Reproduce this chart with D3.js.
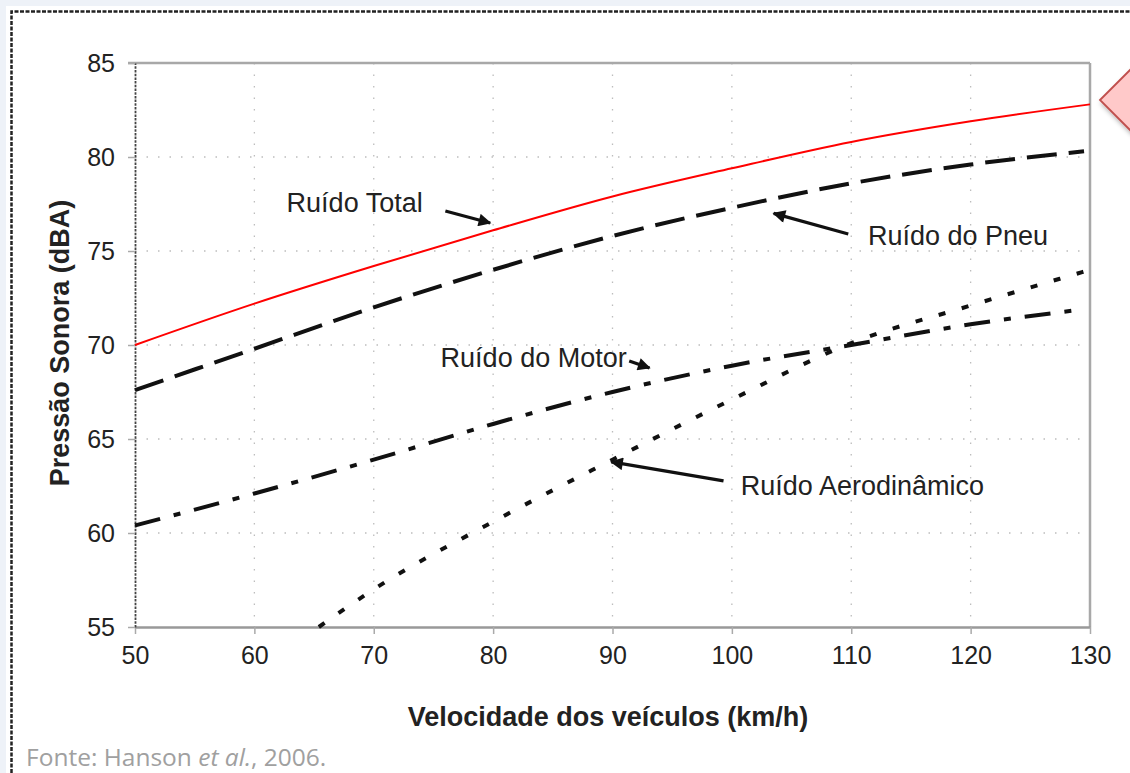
<!DOCTYPE html>
<html><head><meta charset="utf-8">
<script src="https://cdn.jsdelivr.net/npm/d3@7"></script>
<style>
html,body{margin:0;padding:0;background:#eef2f8;}
svg{display:block;}
</style></head>
<body>
<svg id="c" width="1130" height="773"></svg>
<script>
// ---- data ----
const speedTicks = [50,60,70,80,90,100,110,120,130];
const levelTicks = [55,60,65,70,75,80,85];
const speeds = [50,60,70,80,90,100,110,120,130];
const totalNoise = [70.0,72.2,74.2,76.1,77.9,79.4,80.8,81.9,82.8];
const tireSpeeds = [50,60,70,80,90,100,110,120,129.5];
const tireNoise = [67.6,69.8,72.0,74.0,75.8,77.3,78.6,79.6,80.3];
const motorSpeeds = [50,60,70,80,90,100,110,120,129.5];
const motorNoise = [60.4,62.1,63.9,65.8,67.5,68.9,70.0,71.1,71.9];
const aeroSpeeds = [65.4,70,80,90,100,110,120,130];
const aeroNoise = [55.0,57.0,60.6,63.9,67.1,70.1,72.1,74.0];
const labelNames = ["Ruído Total","Ruído do Pneu","Ruído do Motor","Ruído Aerodinâmico"];
const labelX = [62.7,111.4,75.6,100.75];
const labelY = [77.07,75.3,68.85,62.0];
const arrowFromX = [76.0,109.75,91.4,99.3];
const arrowFromY = [77.13,75.9,69.15,62.77];
const arrowToX = [79.75,103.5,93.1,89.9];
const arrowToY = [76.49,77.0,68.78,63.78];
const xTitle = "Velocidade dos veículos (km/h)";
const yTitle = "Pressão Sonora (dBA)";

const FONT = "'Liberation Sans',Arial,sans-serif";
const svg = d3.select("#c");
const defs = svg.append("defs");
defs.append("marker").attr("id","ah").attr("viewBox","0 0 10 10").attr("refX",9).attr("refY",5)
  .attr("markerWidth",4.5).attr("markerHeight",4).attr("orient","auto").attr("markerUnits","strokeWidth")
  .append("path").attr("d","M0,0 L10,5 L0,10 z").attr("fill","#111");
const f = defs.append("filter").attr("id","sh").attr("x","-50%").attr("y","-50%").attr("width","200%").attr("height","200%");
f.append("feDropShadow").attr("dx",2).attr("dy",3).attr("stdDeviation",2.5).attr("flood-color","#000").attr("flood-opacity",0.35);

// page background
svg.append("rect").attr("x",6).attr("y",6).attr("width",1124).attr("height",767).attr("fill","#fff");
svg.append("path").attr("d","M11.5,773 L11.5,11.5 L1130,11.5").attr("fill","none")
  .attr("stroke","#222").attr("stroke-width",2.5).attr("stroke-dasharray","4,1.5");

const x = d3.scaleLinear().domain([50,130]).range([135,1090]);
const y = d3.scaleLinear().domain([55,85]).range([627,63]);

// grid
const g = svg.append("g");
g.selectAll(".vg").data(speedTicks.slice(1,-1)).join("line")
  .attr("x1",d=>x(d)).attr("x2",d=>x(d)).attr("y1",y(85)).attr("y2",y(55))
  .attr("stroke","#bdbdbd").attr("stroke-width",1.3).attr("stroke-dasharray","1.5,10");
g.selectAll(".hg").data(levelTicks.slice(1,-1)).join("line")
  .attr("x1",x(50)).attr("x2",x(130)).attr("y1",d=>y(d)).attr("y2",d=>y(d))
  .attr("stroke","#bdbdbd").attr("stroke-width",1.3).attr("stroke-dasharray","1.5,10");

// frame
svg.append("line").attr("x1",x(50)-7).attr("x2",x(130)).attr("y1",y(85)).attr("y2",y(85)).attr("stroke","#a8a8a8").attr("stroke-width",2.5);
svg.append("line").attr("x1",x(130)).attr("x2",x(130)).attr("y1",y(85)).attr("y2",y(55)).attr("stroke","#a8a8a8").attr("stroke-width",2.5);

// axes
const xa = svg.append("g").attr("transform",`translate(0,${y(55)})`)
  .call(d3.axisBottom(x).tickValues(speedTicks).tickSize(7).tickPadding(12).tickSizeOuter(0));
xa.select(".domain").attr("stroke","#999").attr("stroke-width",2.5);
xa.selectAll(".tick line").attr("stroke","#aaa").attr("stroke-width",1.5);
xa.selectAll("text").attr("font-family",FONT).attr("font-size",25).attr("fill","#222");

const ya = svg.append("g").attr("transform",`translate(${x(50)},0)`)
  .call(d3.axisLeft(y).tickValues(levelTicks).tickSize(7).tickPadding(13).tickSizeOuter(0));
ya.select(".domain").attr("stroke","#444").attr("stroke-width",1.8).attr("stroke-dasharray","2.5,1.2");
ya.selectAll(".tick line").attr("stroke","#aaa").attr("stroke-width",1.5);
ya.selectAll("text").attr("font-family",FONT).attr("font-size",25).attr("fill","#222");

// series
const line = d3.line().x(d=>x(d[0])).y(d=>y(d[1])).curve(d3.curveMonotoneX);
const plot = svg.append("g");
plot.append("path").datum(d3.zip(aeroSpeeds,aeroNoise)).attr("d",line).attr("fill","none")
  .attr("stroke","#111").attr("stroke-width",4).attr("stroke-dasharray","7,17");
plot.append("path").datum(d3.zip(motorSpeeds,motorNoise)).attr("d",line).attr("fill","none")
  .attr("stroke","#111").attr("stroke-width",4).attr("stroke-dasharray","26,14,7,14");
plot.append("path").datum(d3.zip(tireSpeeds,tireNoise)).attr("d",line).attr("fill","none")
  .attr("stroke","#111").attr("stroke-width",4).attr("stroke-dasharray","30,12");
plot.append("path").datum(d3.zip(speeds,totalNoise)).attr("d",line).attr("fill","none")
  .attr("stroke","#ff0000").attr("stroke-width",2);

// annotations
const ann = svg.append("g");
labelNames.forEach((t,i)=>{
  ann.append("text").attr("x",x(labelX[i])).attr("y",y(labelY[i])).text(t)
    .attr("font-family",FONT).attr("font-size",27).attr("fill","#222");
  ann.append("line").attr("x1",x(arrowFromX[i])).attr("y1",y(arrowFromY[i]))
    .attr("x2",x(arrowToX[i])).attr("y2",y(arrowToY[i]))
    .attr("stroke","#111").attr("stroke-width",3.2).attr("marker-end","url(#ah)");
});

// titles
svg.append("text").attr("x",608).attr("y",726).attr("text-anchor","middle").text(xTitle)
  .attr("font-family",FONT).attr("font-weight","bold").attr("font-size",27).attr("fill","#222");
svg.append("text").attr("transform","translate(69,343) rotate(-90)").attr("text-anchor","middle").text(yTitle)
  .attr("font-family",FONT).attr("font-weight","bold").attr("font-size",27).attr("fill","#222");

// source
const src = svg.append("text").attr("x",26).attr("y",766)
  .attr("font-family","'Open Sans',Lato,sans-serif").attr("font-size",24.5).attr("fill","#a0a0a0");
src.append("tspan").text("Fonte: Hanson ");
src.append("tspan").attr("font-style","italic").text("et al.");
src.append("tspan").text(", 2006.");

// callout
svg.append("path").attr("d","M1100,100 L1132,68 L1160,68 L1160,132 L1132,132 Z")
  .attr("fill","#ffc9c9").attr("stroke","#c0504d").attr("stroke-width",1.8).attr("filter","url(#sh)");
</script>
</body></html>
